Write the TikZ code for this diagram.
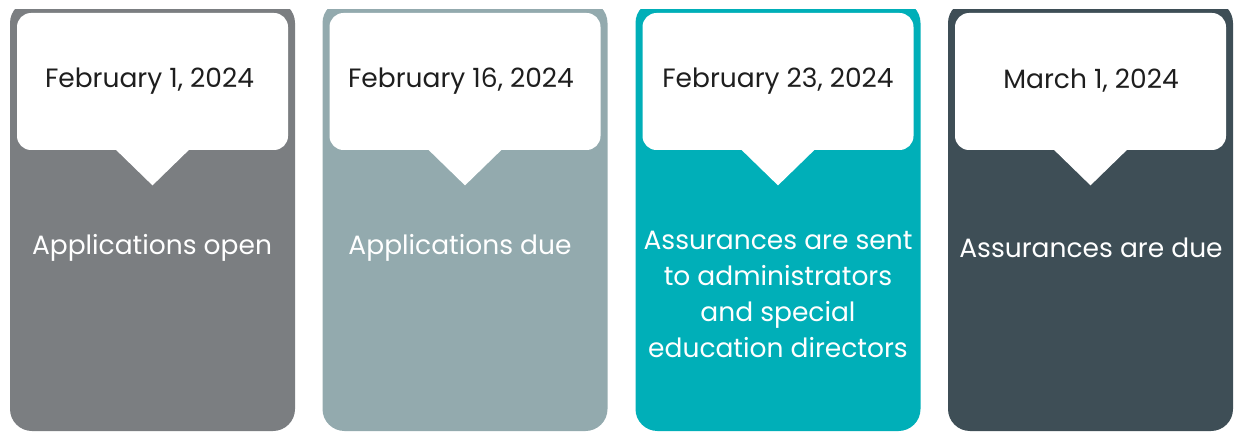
\documentclass[tikz,border=0pt]{standalone}
\usepackage{fontspec}
\setmainfont{Poppins}
\usetikzlibrary{positioning}

\definecolor{stepgray}{RGB}{123,126,129}
\definecolor{stepsage}{RGB}{147,170,174}
\definecolor{stepteal}{RGB}{0,175,184}
\definecolor{stepslate}{RGB}{62,78,86}
\definecolor{datetext}{RGB}{30,30,30}

\tikzset{every picture/.style={line width=0.75pt}}
\tikzset{
  panel/.style={rectangle, rounded corners=22pt, minimum width=285pt, minimum height=430pt, inner sep=0pt, draw=none},
  datebox/.style={rectangle, rounded corners=14pt, fill=white, minimum width=271pt, minimum height=137pt, inner sep=0pt},
  datetip/.style={fill=white},
  datelabel/.style={text=datetext, inner sep=0pt, font=\fontsize{26.5}{30}\selectfont},
  eventtext/.style={text=white, align=center, inner sep=0pt, font=\fontsize{26.5}{36}\selectfont}
}

\begin{document}
\begin{tikzpicture}[x=1pt,y=1pt,yscale=-1]
%set diagram to the full page
\useasboundingbox (0,0) rectangle (1235,433);

\begin{scope}
\clip (0,10) rectangle (1235,433);
% Panels
\node [panel, fill=stepgray] (p1) at (152.5,216) {};
\node [panel, fill=stepsage] (p2) at (465,216) {};
\node [panel, fill=stepteal] (p3) at (778,216) {};
\node [panel, fill=stepslate] (p4) at (1090.5,216) {};
\end{scope}

% Date callouts
\node [datebox] (d1) at (152.5,81.5) {};
\node [datebox] (d2) at (465,81.5) {};
\node [datebox] (d3) at (778,81.5) {};
\node [datebox] (d4) at (1090.5,81.5) {};
\fill [datetip] ([xshift=-37pt,yshift=-1pt]d1.south) -- ([xshift=37pt,yshift=-1pt]d1.south) -- ([yshift=35pt]d1.south) -- cycle;
\fill [datetip] ([xshift=-37pt,yshift=-1pt]d2.south) -- ([xshift=37pt,yshift=-1pt]d2.south) -- ([yshift=35pt]d2.south) -- cycle;
\fill [datetip] ([xshift=-37pt,yshift=-1pt]d3.south) -- ([xshift=37pt,yshift=-1pt]d3.south) -- ([yshift=35pt]d3.south) -- cycle;
\fill [datetip] ([xshift=-37pt,yshift=-1pt]d4.south) -- ([xshift=37pt,yshift=-1pt]d4.south) -- ([yshift=35pt]d4.south) -- cycle;

% Date labels
\node [datelabel] (l1) at (149.5,81) {February 1, 2024};
\node [datelabel] (l2) at (461,81) {February 16, 2024};
\node [datelabel] (l3) at (778,81) {February 23, 2024};
\node [datelabel] (l4) at (1091,81) {March 1, 2024};

% Event text
\node [eventtext] (e1) at (152,248) {Applications open};
\node [eventtext] (e2) at (460,248) {Applications due};
\node [eventtext] (e3) at (778,294) {Assurances are sent\\to administrators\\and special\\education directors};
\node [eventtext] (e4) at (1091,248) {Assurances are due};
\end{tikzpicture}
\end{document}
